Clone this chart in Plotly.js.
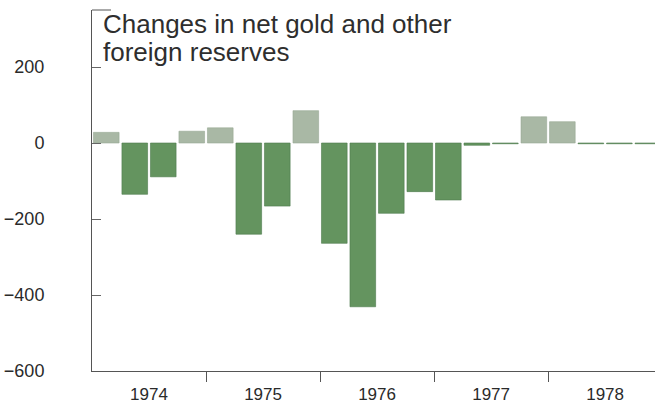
<!DOCTYPE html>
<html>
<head>
<meta charset="utf-8">
<script src="https://cdn.plot.ly/plotly-3.0.1.min.js"></script>
<style>
html,body{margin:0;padding:0;background:#fff;}
#chart{width:655px;height:407px;}
</style>
</head>
<body>
<div id="chart"></div>
<script>
// Quarterly changes in net gold and other foreign reserves
const years = ['1974', '1975', '1976', '1977', '1978'];
const quarterValues = [
  28, -135, -89, 31,     // 1974
  40, -240, -166, 85,    // 1975
  -264, -431, -185, -128,// 1976
  -150, -6, -2, 69,      // 1977
  56, -2, -2, -2         // 1978
];
const yTickVals = [-600, -400, -200, 0, 200];
const titleLines = ['Changes in net gold and other', 'foreign reserves'];

const posColor = '#a9b8a5';
const negColor = '#64945f';

const xIdx = quarterValues.map((v, i) => i);
const colors = quarterValues.map(v => v >= 0 ? posColor : negColor);
const lineColors = quarterValues.map(v => v >= 0 ? '#97a893' : '#4e7a4d');
const yearCenters = years.map((y, i) => i * 4 + 1.5);
const yearBounds = years.slice(1).map((y, i) => (i + 1) * 4 - 0.5);

const axisFont = {family: '"Liberation Sans", Arial, sans-serif', size: 18, color: '#2a2a2a'};
const xFont = {family: '"Liberation Sans", Arial, sans-serif', size: 17, color: '#2a2a2a'};
const titleFont = {family: '"Liberation Sans", Arial, sans-serif', size: 26, color: '#2e2e2e'};

const trace = {
  type: 'bar',
  x: xIdx,
  y: quarterValues,
  marker: {color: colors, line: {color: lineColors, width: 0.6}},
  hoverinfo: 'y',
  showlegend: false
};

const plotTop = 10, plotH = 361, plotW = 563;
const titleCenters = [24, 52];

const layout = {
  width: 655,
  height: 407,
  margin: {l: 92, r: 0, t: plotTop, b: 36, pad: 0},
  paper_bgcolor: '#fff',
  plot_bgcolor: '#fff',
  bargap: 0.1,
  xaxis: {
    range: [-0.5, 19.25],
    tickmode: 'array',
    tickvals: yearCenters,
    ticktext: years,
    ticks: 'inside',
    ticklen: 0,
    minor: {tickmode: 'array', tickvals: yearBounds, ticklen: 10, tickcolor: '#555', tickwidth: 1, showgrid: false},
    showline: true, linecolor: '#555', linewidth: 1,
    showgrid: false, zeroline: false,
    tickfont: xFont,
    ticklabelstandoff: 8,
    fixedrange: true
  },
  yaxis: {
    range: [-600, 350],
    tickmode: 'array',
    tickvals: yTickVals,
    ticks: 'inside',
    ticklen: 9,
    tickcolor: '#666',
    showline: true, linecolor: '#555', linewidth: 1,
    showgrid: false, zeroline: false,
    tickfont: axisFont,
    ticklabelstandoff: 43,
    fixedrange: true
  },
  annotations: titleLines.map((t, i) => ({
    text: t,
    xref: 'paper', yref: 'paper',
    x: 9 / plotW, y: 1 - (titleCenters[i] - plotTop) / plotH,
    xanchor: 'left', yanchor: 'middle', align: 'left',
    showarrow: false,
    font: titleFont
  })),
  shapes: [{
    type: 'line', xref: 'paper', yref: 'paper',
    x0: 0, x1: 19 / plotW, y0: 1, y1: 1,
    line: {color: '#555', width: 1}
  }]
};

Plotly.newPlot('chart', [trace], layout, {displayModeBar: false, staticPlot: true});
</script>
</body>
</html>
